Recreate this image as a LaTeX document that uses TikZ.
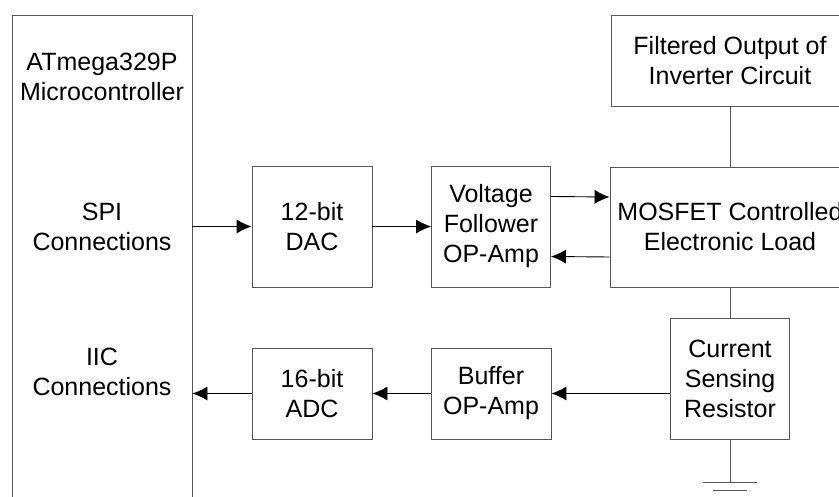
\documentclass[tikz,border=0pt]{standalone}
\usepackage{fontspec}
\setmainfont{Liberation Sans}
\usetikzlibrary{arrows.meta}
\usepackage{xcolor}
\definecolor{boxgray}{RGB}{85,85,85}

\begin{document}
\begin{tikzpicture}[x=1pt, y=-1pt, >={Latex[length=15pt, width=14pt]},
    blk/.style={draw=boxgray, line width=0.9pt, align=center, inner sep=0pt,
      font=\fontsize{25}{30}\selectfont},
    lbl/.style={align=center, font=\fontsize{25}{30}\selectfont},
    wire/.style={line width=0.9pt}]
    \clip (0,0) rectangle (839,497);
    % microcontroller, runs off the bottom
    \node[blk, minimum width=180pt, minimum height=500pt] (mcu) at (102,265) {};
    \node[lbl] (mcuname) at (102,77) {ATmega329P\\Microcontroller};
    \node[lbl] (spi) at (102,227) {SPI\\Connections};
    \node[lbl] (iic) at (102,372) {IIC\\Connections};
    % upper row
    \node[blk, minimum width=120pt, minimum height=121pt] (dac) at (312,226.5) {12-bit\\DAC};
    \node[blk, minimum width=119pt, minimum height=121pt] (vf) at (491,226.5) {Voltage\\Follower\\OP-Amp};
    \node[blk, minimum width=240pt, minimum height=120pt] (load) at (730,227) {MOSFET Controlled\\Electronic Load};
    \node[blk, minimum width=238pt, minimum height=91pt] (filt) at (730,60.5) {Filtered Output of\\Inverter Circuit};
    % lower row
    \node[blk, minimum width=119pt, minimum height=121pt] (csr) at (730,378.5) {Current\\Sensing\\Resistor};
    \node[blk, minimum width=120pt, minimum height=91pt] (buf) at (491,393.5) {Buffer\\OP-Amp};
    \node[blk, minimum width=120pt, minimum height=91pt] (adc) at (312,393.5) {16-bit\\ADC};
    \coordinate (gnd) at (730,482);

    \draw[wire, ->] (mcu.east |- dac) -- (dac.west);
    \draw[wire, ->] (dac) -- (vf);
    \draw[wire, ->] ([yshift=30pt]vf.east) -- ([yshift=30pt]load.west);
    \draw[wire, ->] ([yshift=-30pt]load.west) -- ([yshift=-30pt]vf.east);
    \draw[wire, boxgray] (filt) -- (load);
    \draw[wire, boxgray] (load) -- (csr);
    \draw[wire, ->] (csr.west |- buf) -- (buf);
    \draw[wire, ->] (buf) -- (adc);
    \draw[wire, ->] (adc) -- (mcu.east |- adc);
    % ground
    \draw[wire, boxgray] (csr) -- (gnd);
    \draw[wire, boxgray] ([xshift=-27pt]gnd) -- ([xshift=27pt]gnd);
    \draw[wire, boxgray] ([xshift=-17pt, yshift=-8pt]gnd) -- ([xshift=17pt, yshift=-8pt]gnd);
    \draw[wire, boxgray] ([xshift=-8pt, yshift=-16pt]gnd) -- ([xshift=8pt, yshift=-16pt]gnd);
  \end{tikzpicture}
\end{document}
